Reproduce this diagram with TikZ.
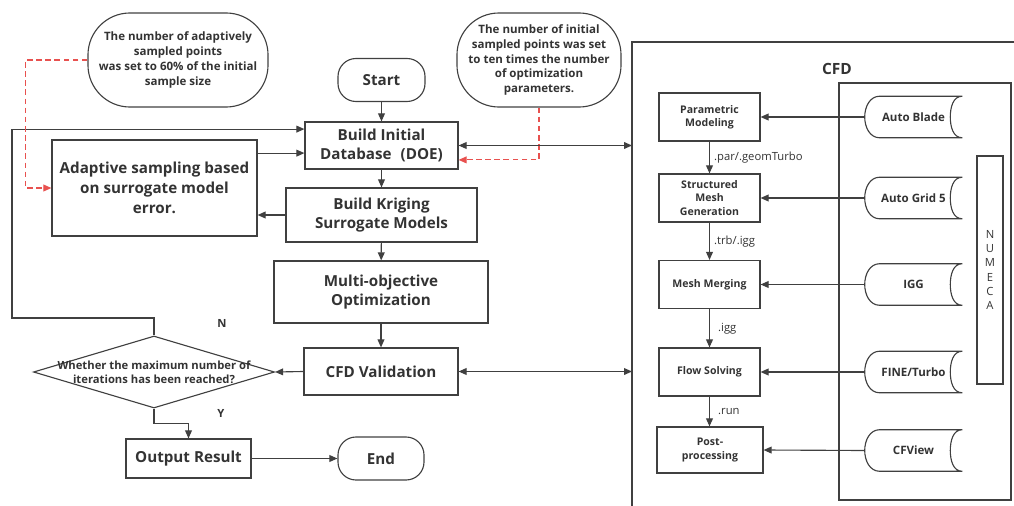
\documentclass[tikz,border=0pt]{standalone}
\usepackage{fontspec}
\setmainfont{Open Sans}
\usetikzlibrary{arrows.meta, positioning, shapes.geometric, calc}
\definecolor{ink}{HTML}{404040}
\definecolor{txt}{HTML}{333333}
\definecolor{hint}{HTML}{E8514F}

\begin{document}
\begin{tikzpicture}[
  x=0.025cm, y=-0.025cm,
  every node/.style={text=txt},
  ln/.style={draw=ink, line width=0.8pt},
  box/.style={ln, rectangle, align=center, inner sep=2pt,
              font=\bfseries\fontsize{10.8}{14}\selectfont},
  term/.style={box, rounded corners=0.45cm},
  note/.style={ln, rounded corners=1.05cm, align=center, inner sep=1pt,
               font=\bfseries\fontsize{8.2}{10.5}\selectfont},
  sub/.style={ln, align=center, minimum width=2.525cm, minimum height=1.2cm,
              font=\bfseries\fontsize{7.5}{9.5}\selectfont},
  tool/.style={align=center, minimum width=2.425cm, minimum height=1.025cm,
               font=\bfseries\fontsize{8.2}{9.5}\selectfont},
  ext/.style={font=\fontsize{8}{9}\selectfont, inner sep=1.5pt},
  flag/.style={font=\bfseries\fontsize{8}{10}\selectfont},
  arr/.style={ln, -{Triangle[length=2mm, width=1.7mm]}},
  darr/.style={ln, {Triangle[length=2mm, width=1.7mm]}-{Triangle[length=2mm, width=1.7mm]}},
  hintarr/.style={draw=hint, line width=0.8pt, dash pattern=on 4pt off 2.5pt,
                  -{Triangle[length=2mm, width=1.7mm]}},
]
\useasboundingbox (0,0) rectangle (1014,506);

% Notes
\node[note, minimum width=4.5cm, minimum height=2.35cm] (n1) at (178,60)
  {The number of adaptively\\sampled points\\was set to 60\% of the initial\\sample size};
\node[note, minimum width=4.1cm, minimum height=2.35cm] (n2) at (539,60)
  {The number of initial\\sampled points was set\\to ten times the number\\of optimization\\parameters.};

% Main flow
\node[term, minimum width=2.175cm, minimum height=1.075cm] (start) at (381.5,80) {Start};
\node[box, minimum width=3.825cm, minimum height=1.175cm] (db) at (381.5,145.5)
  {Build Initial\\Database\hspace{0.6em}(DOE)};
\node[box, minimum width=4.775cm, minimum height=1.35cm] (krig) at (381.5,215)
  {Build Kriging\\Surrogate Models};
\node[box, minimum width=5.125cm, minimum height=2.4cm] (adapt) at (154.5,188)
  {Adaptive sampling based\\on surrogate model\\error.};
\node[box, minimum width=5.35cm, minimum height=1.55cm] (moo) at (381,292)
  {Multi-objective\\Optimization};
\node[box, minimum width=3.85cm, minimum height=1.175cm] (val) at (381,371.5) {CFD Validation};
\node[ln, diamond, minimum width=6.025cm, minimum height=1.8cm, inner sep=0pt,
  label={[align=center, font=\bfseries\fontsize{8}{9.8}\selectfont]center:Whether the maximum number of\\iterations has been reached?}]
  (dec) at (154,372) {};
\node[box, minimum width=3.125cm, minimum height=0.975cm] (out) at (188.5,458.5) {Output Result};
\node[term, minimum width=2.15cm, minimum height=1.075cm] (stop) at (381,458.5) {End};
\node[flag] (nlab) at (222,323) {N};
\node[flag] (ylab) at (221,413) {Y};
\coordinate (loopL) at (12,318);

% CFD frame
\coordinate (cfdtl) at (632,42);
\draw[ln] (cfdtl |- 0,506) -- (cfdtl) -- (cfdtl -| 1014,0);
\node[font=\bfseries\fontsize{11}{13}\selectfont] (cfdlab) at (837,69) {CFD};
\node[ln, minimum width=4.3cm, minimum height=10.425cm] (numeca) at (925,291.5) {};
\node[ln, minimum width=0.65cm, minimum height=5.7cm, align=center, inner sep=0pt,
  font=\fontsize{8}{10.2}\selectfont] (numstrip) at (990,270) {N\\U\\M\\E\\C\\A};

% CFD steps
\node[sub] (pm) at (709.5,117) {Parametric\\Modeling};
\node[sub] (smg) at (709.5,198) {Structured\\Mesh\\Generation};
\node[sub] (mm) at (709.5,284.5) {Mesh Merging};
\node[sub] (fs) at (709.5,372) {Flow Solving};
\node[sub, minimum width=2.65cm, minimum height=1.15cm] (pp) at (710,450) {Post-\\processing};

% NUMECA tools
\node[tool] (ab) at (913.5,117) {Auto Blade};
\node[tool] (ag) at (913.5,198) {Auto Grid 5};
\node[tool] (igg) at (913.5,284.5) {IGG};
\node[tool] (fine) at (913.5,372) {FINE/Turbo};
\node[tool] (cfv) at (913.5,450.5) {CFView};
\foreach \t in {ab,ag,igg,fine,cfv}{
  \draw[ln] ([xshift=0.375cm]\t.north west) -- (\t.north east)
    to[out=180, in=90] ([xshift=-0.3cm]\t.east) to[out=-90, in=180] (\t.south east)
    -- ([xshift=0.375cm]\t.south west) to[out=180, in=-90] (\t.west)
    to[out=90, in=180] ([xshift=0.375cm]\t.north west);
}

% Arrows: main flow
\draw[arr] (start) -- (db);
\draw[arr] (db) -- (krig);
\draw[arr] (krig) -- (moo);
\draw[arr] (moo) -- (val);
\draw[arr] (val.west) -- (dec.east);
\draw[arr] (dec.north) |- (loopL) |- ([yshift=0.41cm]db.west);
\draw[arr] (dec.south) -- ++(0,-0.375cm) -| (out.north);
\draw[arr] (out) -- (stop);
\draw[arr] ([yshift=-0.19cm]db.west -| adapt.east) -- ([yshift=-0.19cm]db.west);
\draw[arr] (krig.west) -- (krig.west -| adapt.east);

% Arrows: notes
\draw[hintarr] (n1.west) -| ([xshift=-0.65cm]adapt.west) -- (adapt.west);
\draw[hintarr] (n2.south) |- ([yshift=-0.36cm]db.east);

% Arrows: to CFD
\draw[darr] (db.east) -- (db.east -| cfdtl);
\draw[darr] (val.east) -- (val.east -| cfdtl);

% Arrows: CFD chain
\draw[arr] (pm) -- node[ext, right, xshift=0.05cm]{.par/.geomTurbo} (smg);
\draw[arr] (smg) -- node[ext, right, xshift=0.05cm]{.trb/.igg} (mm);
\draw[arr] (mm) -- node[ext, right, xshift=0.15cm]{.igg} (fs);
\draw[arr] (fs.south) -- node[ext, right, xshift=0.15cm]{.run} (fs.south |- pp.north);
\draw[arr] (ab.west) -- (pm.east);
\draw[arr] (ag.west) -- (smg.east);
\draw[arr] (igg.west) -- (mm.east);
\draw[arr] (fine.west) -- (fs.east);
\draw[arr] (cfv.west) -- (pp.east);

\end{tikzpicture}
\end{document}
